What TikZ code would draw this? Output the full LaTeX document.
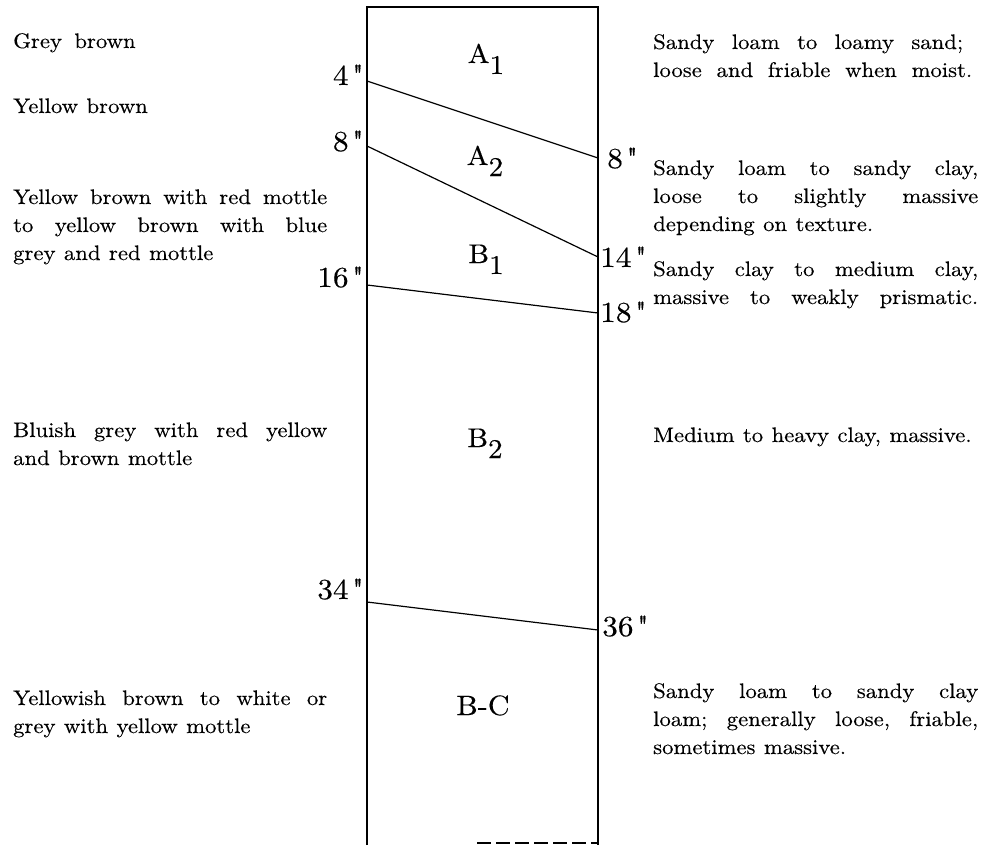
\documentclass[tikz,border=0pt]{standalone}
\usepackage{fontspec}
\setmainfont{lmroman10-regular}[Extension=.otf, FakeStretch=1.08, FakeBold=0.3]
\newfontface\plainlm{lmroman10-regular}[Extension=.otf, FakeStretch=1.08, FakeBold=0.4]
\newcommand\jl[2]{\makebox[#1][s]{#2}}
\newcommand\widespaces{\frenchspacing\spaceskip=8.5pt plus 10pt minus 2pt\relax}
\newcommand\dq{\kern3.5pt{\plainlm"}}
\tikzset{
  frame/.style={line width=1.3pt, line cap=butt},
  horizon/.style={line width=1.2pt},
  txt/.style={inner sep=0pt, anchor=base west, align=left,
    font=\fontsize{21}{28}\selectfont, execute at begin node=\widespaces},
  depth/.style={inner sep=0pt, font=\fontsize{29}{29}\selectfont},
  hz/.style={inner sep=0pt, anchor=base, font=\fontsize{27}{27}\selectfont}
}
\begin{document}
\begin{tikzpicture}[x=1pt,y=-1pt]
\useasboundingbox (0,0) rectangle (992,845);
% column frame
\coordinate (TL) at (367,7);
\coordinate (TR) at (598,7);
\coordinate (BL) at (367,845);
\coordinate (BR) at (598,845);
\coordinate (BD1) at (477,843);
\coordinate (BD2) at (598,843);
\draw[frame] (BL) -- (TL) -- (TR) -- (BR);
\draw[line width=1.2pt, dash pattern=on 14pt off 5pt] (BD1) -- (BD2);
% horizon boundaries
\coordinate (l4) at (367,81);   \coordinate (r8) at (598,158);
\coordinate (l8) at (367,146);  \coordinate (r14) at (598,257);
\coordinate (l16) at (367,285); \coordinate (r18) at (598,313);
\coordinate (l34) at (367,602); \coordinate (r36) at (598,630);
\draw[horizon] (l4) -- (r8);
\draw[horizon] (l8) -- (r14);
\draw[horizon] (l16) -- (r18);
\draw[horizon] (l34) -- (r36);
% depth labels
\node[depth, anchor=base east] (d4)  at (364,85)  {4\dq};
\node[depth, anchor=base east] (d8)  at (364,151) {8\dq};
\node[depth, anchor=base east] (d16) at (364,287) {16\dq};
\node[depth, anchor=base east] (d34) at (364,599) {34\dq};
\node[depth, anchor=base west] (e8)  at (607,168) {8\dq};
\node[depth, anchor=base west] (e14) at (600,267) {14\dq};
\node[depth, anchor=base west] (e18) at (600,322) {18\dq};
\node[depth, anchor=base west] (e36) at (602,636) {36\dq};
% horizon names
\node[hz] (hA1) at (486,63)  {A\raisebox{-11pt}{1}};
\node[hz] (hA2) at (485,165) {A\raisebox{-11pt}{2}};
\node[hz] (hB1) at (486,263) {B\raisebox{-11pt}{1}};
\node[hz] (hB2) at (485,447) {B\raisebox{-11pt}{2}};
\node[hz, font=\fontsize{28}{28}\selectfont] (hBC) at (483,715) {B-C};
% colour descriptions (left); anchor is the baseline of the last line
\node[txt] (c1) at (13,48)  {Grey\hspace{4pt} brown};
\node[txt] (c2) at (13,113) {Yellow brown};
\node[txt] (c3) at (13,260) {\jl{314pt}{Yellow brown with red mottle}\\
  \jl{314pt}{to yellow brown with blue}\\grey and red mottle};
\node[txt] (c4) at (13,465) {\jl{314pt}{Bluish grey with red yellow}\\and brown mottle};
\node[txt] (c5) at (13,733) {\jl{314pt}{Yellowish brown to white or}\\grey with yellow mottle};
% texture descriptions (right)
\node[txt] (s1) at (653,77)  {\jl{310pt}{Sandy loam to loamy sand;}\\
  \jl{319pt}{loose and friable when moist.}};
\node[txt] (s2) at (653,231) {\jl{325pt}{Sandy loam to sandy clay,}\\
  \jl{325pt}{loose to slightly massive}\\depending on texture.};
\node[txt] (s3) at (653,304) {\jl{325pt}{Sandy clay to medium clay,}\\
  \jl{325pt}{massive to weakly prismatic.}};
\node[txt] (s4) at (653,442) {Medium to heavy clay, massive.};
\node[txt] (s5) at (653,754) {\jl{325pt}{Sandy loam to sandy clay}\\
  \jl{325pt}{loam; generally loose, friable,}\\sometimes massive.};
\end{tikzpicture}
\end{document}
